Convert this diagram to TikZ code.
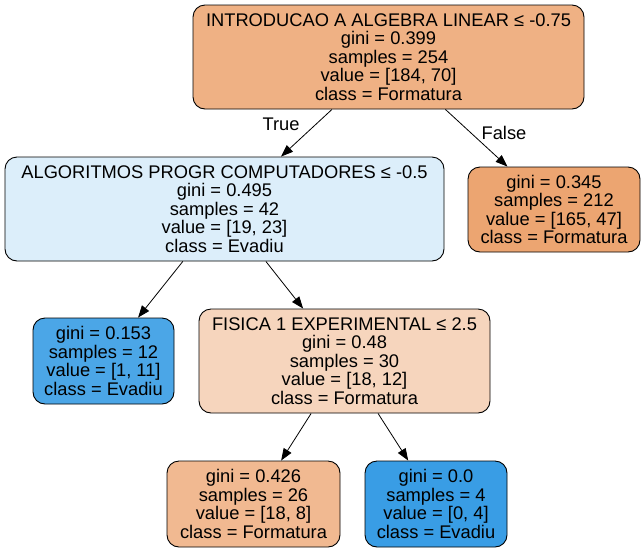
\documentclass[tikz,border=0pt]{standalone}
\usepackage{fontspec}
\setmainfont{Liberation Sans}
\usetikzlibrary{arrows.meta}
\definecolor{cRoot}{RGB}{239,177,132}
\definecolor{cRight}{RGB}{236,165,113}
\definecolor{cAlg}{RGB}{220,238,250}
\definecolor{cA}{RGB}{75,166,231}
\definecolor{cFis}{RGB}{246,213,189}
\definecolor{cBL}{RGB}{241,185,145}
\definecolor{cBR}{RGB}{57,157,229}
\begin{document}
\begin{tikzpicture}[x=1pt,y=-1pt,
  treenode/.style={draw=black, rounded corners=12pt, line width=0.9pt, inner sep=0pt,
    align=center, font=\fontsize{18.3}{18.6}\selectfont},
  sz/.style 2 args={minimum width=#1pt, minimum height=#2pt},
  edge/.style={line width=0.8pt, -{Triangle[length=12pt,width=9pt]}},
  elabel/.style={font=\fontsize{18.3}{18}\selectfont}]
\useasboundingbox (0,0) rectangle (642,552);
\node[treenode, fill=cRoot, sz={391}{104}] (root) at (388.5,57)
  {INTRODUCAO A ALGEBRA LINEAR ≤ -0.75\\gini = 0.399\\samples = 254\\value = [184, 70]\\class = Formatura};
\node[treenode, fill=cAlg, sz={439}{104}] (alg) at (224.5,209)
  {ALGORITMOS PROGR COMPUTADORES ≤ -0.5\\gini = 0.495\\samples = 42\\value = [19, 23]\\class = Evadiu};
\node[treenode, fill=cRight, sz={172}{85}] (right) at (554,209.5)
  {gini = 0.345\\samples = 212\\value = [165, 47]\\class = Formatura};
\node[treenode, fill=cA, sz={141}{86}] (leafa) at (103.5,361)
  {gini = 0.153\\samples = 12\\value = [1, 11]\\class = Evadiu};
\node[treenode, fill=cFis, sz={291}{104}] (fis) at (344.5,361)
  {FISICA 1 EXPERIMENTAL ≤ 2.5\\gini = 0.48\\samples = 30\\value = [18, 12]\\class = Formatura};
\node[treenode, fill=cBL, sz={173}{86}] (bl) at (253.5,504)
  {gini = 0.426\\samples = 26\\value = [18, 8]\\class = Formatura};
\node[treenode, fill=cBR, sz={142}{86}] (br) at (436,504)
  {gini = 0.0\\samples = 4\\value = [0, 4]\\class = Evadiu};
\draw[edge] (root) -- (alg);
\draw[edge] (root) -- (right);
\draw[edge] (alg) -- (leafa);
\draw[edge] (alg) -- (fis);
\draw[edge] (fis) -- (bl);
\draw[edge] (fis) -- (br);
\node[elabel] (ltrue) at (281,124) {True};
\node[elabel] (lfalse) at (504,133) {False};
\end{tikzpicture}
\end{document}
